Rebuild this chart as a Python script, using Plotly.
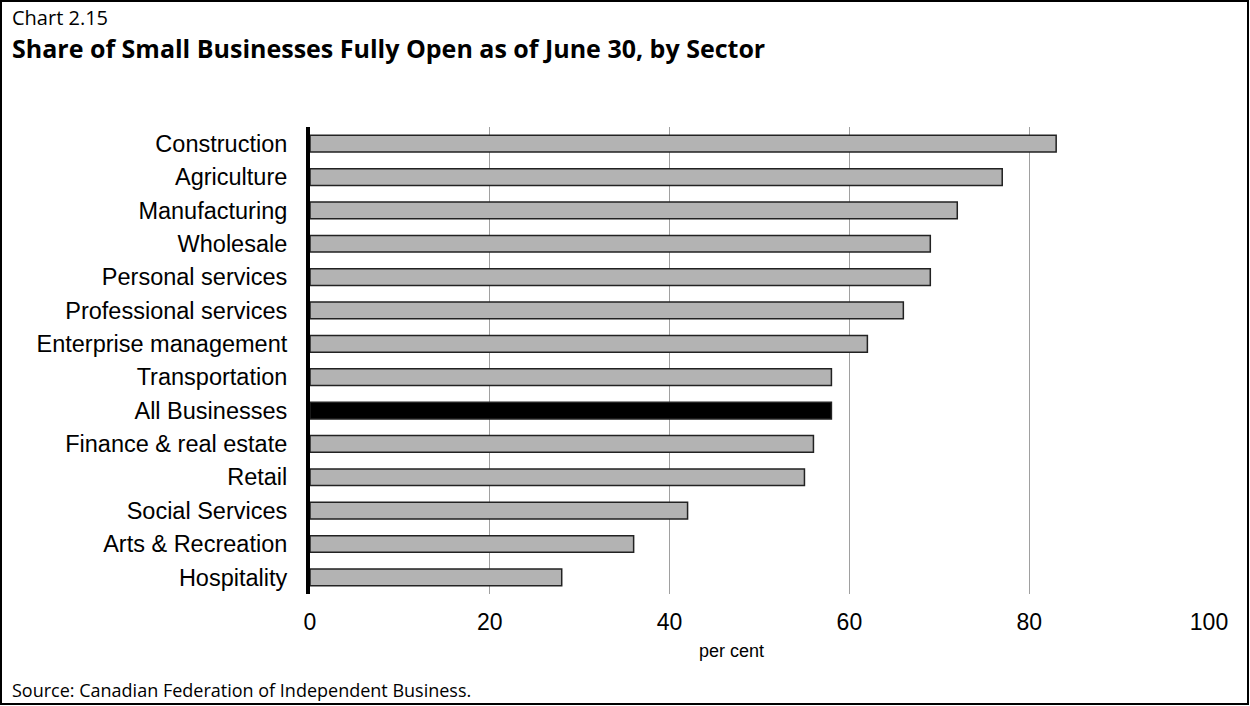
import plotly.graph_objects as go

sectors = ['Construction', 'Agriculture', 'Manufacturing', 'Wholesale', 'Personal services',
           'Professional services', 'Enterprise management', 'Transportation', 'All Businesses',
           'Finance & real estate', 'Retail', 'Social Services', 'Arts & Recreation', 'Hospitality']
share_open = [83, 77, 72, 69, 69, 66, 62, 58, 58, 56, 55, 42, 36, 28]
x_ticks = [0, 20, 40, 60, 80, 100]

W, H = 1250, 706
ML, MR, MT, MB = 310, 41, 127, 112
pw, ph = W - ML - MR, H - MT - MB


def px_x(p):
    return (p - ML) / pw


def px_y(p):
    return (H - MB - p) / ph


colors = ['black' if s == 'All Businesses' else '#b3b3b3' for s in sectors]
sans = 'Liberation Sans, Arial'
ui = 'Open Sans, Noto Sans'

fig = go.Figure()
fig.add_trace(
    go.Bar(
        dict(orientation='h',
             x=share_open,
             y=sectors,
             width=0.5,
             marker_color=colors,
             marker_line_color='#222222',
             marker_line_width=1.5,
             hoverinfo='x+y')
    )
)

fig.update_yaxes(autorange='reversed', showgrid=False, ticks='',
                 showline=True, linecolor='black', linewidth=4,
                 ticklabelstandoff=14,
                 tickfont=dict(family=sans, size=23.5, color='black'))
fig.update_xaxes(range=[0, 100], tickvals=x_ticks, showgrid=True, gridcolor='#a0a0a0', gridwidth=1,
                 zeroline=False, showline=False, ticks='', ticklabelstandoff=12,
                 tickfont=dict(family=sans, size=23, color='black'))

fig.add_annotation(text='per cent', xref='paper', yref='paper', x=px_x(731), y=px_y(651),
                   xanchor='center', yanchor='middle', showarrow=False,
                   font=dict(family=sans, size=18, color='black'))
fig.add_annotation(text='Chart 2.15', xref='paper', yref='paper', x=px_x(10), y=px_y(17),
                   xanchor='left', yanchor='middle', showarrow=False,
                   font=dict(family=ui, size=20, color='black'))
fig.add_annotation(text='<b>Share of Small Businesses Fully Open as of June 30, by Sector</b>',
                   xref='paper', yref='paper', x=px_x(10), y=px_y(48),
                   xanchor='left', yanchor='middle', showarrow=False,
                   font=dict(family=ui, size=25, color='black'))
fig.add_annotation(text='Source: Canadian Federation of Independent Business.',
                   xref='paper', yref='paper', x=px_x(10), y=px_y(690),
                   xanchor='left', yanchor='middle', showarrow=False,
                   font=dict(family=ui, size=18, color='black'))

fig.add_shape(type='rect', xref='paper', yref='paper',
              x0=px_x(1), x1=px_x(1248), y0=px_y(704), y1=px_y(1),
              line=dict(color='black', width=2), fillcolor='rgba(0,0,0,0)', layer='above')

fig.update_layout(width=W, height=H, margin=dict(l=ML, r=MR, t=MT, b=MB),
                  template='plotly_white', plot_bgcolor='white', paper_bgcolor='white',
                  showlegend=False, bargap=0.5)
fig.write_html('out.html', config={'displayModeBar': False},
               post_script="document.body.style.margin='0';")
